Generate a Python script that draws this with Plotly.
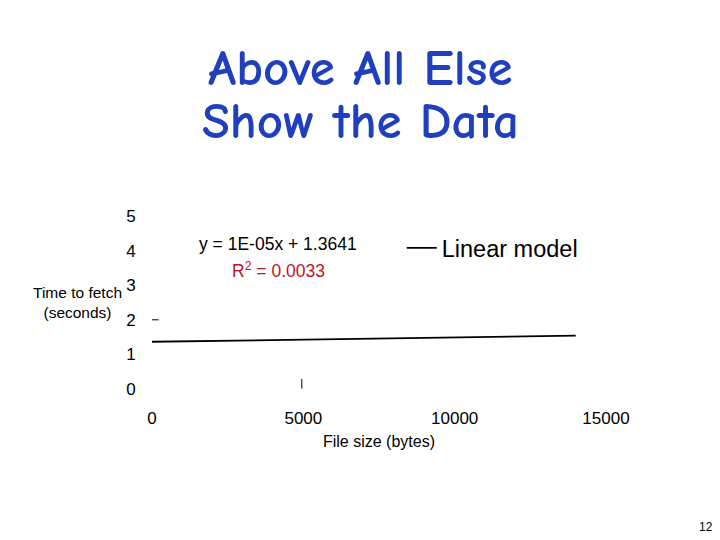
import plotly.graph_objects as go

# Data
line_x = [0, 14000]
line_y = [1.365, 1.54]
pts_x = [80, 4950]
pts_y = [2.0, 0.15]
x_ticks = [0, 5000, 10000, 15000]
y_ticks = [0, 1, 2, 3, 4, 5]

FONT = "Arial, Liberation Sans, sans-serif"
TITLE_FONT = "Comic Sans MS, Comic Neue, DejaVu Sans, sans-serif"
BLUE = "#1f3fbf"

fig = go.Figure()
fig.add_trace(go.Scatter(
    x=line_x, y=line_y, mode="lines", name="Linear model",
    line=dict(color="black", width=1.8), showlegend=True,
))
fig.add_trace(go.Scatter(
    x=pts_x[:1], y=pts_y[:1], mode="markers", showlegend=False,
    marker=dict(symbol="line-ew", size=6, line=dict(color="black", width=1)),
))
fig.add_trace(go.Scatter(
    x=pts_x[1:], y=pts_y[1:], mode="markers", showlegend=False,
    marker=dict(symbol="line-ns", size=7, line=dict(color="black", width=1)),
))

fig.update_layout(
    width=720, height=540,
    paper_bgcolor="white", plot_bgcolor="white",
    margin=dict(l=152, r=114, t=216, b=151, autoexpand=False),
    font=dict(family=FONT, color="black", size=17),
    legend=dict(
        xref="container", yref="container", x=0.558, y=1 - 248 / 540,
        xanchor="left", yanchor="middle",
        font=dict(size=23.5, family=FONT, color="black"),
        bgcolor="rgba(0,0,0,0)", itemwidth=30,
    ),
    showlegend=True,
)
fig.update_xaxes(
    range=[0, 15000], tickvals=x_ticks, ticktext=[str(v) for v in x_ticks],
    showgrid=False, zeroline=False, showline=False,
    ticks="outside", ticklen=14, tickcolor="white",
    tickfont=dict(size=17),
    title=dict(text="File size (bytes)", font=dict(size=16), standoff=8),
)
fig.update_yaxes(
    range=[0, 5], tickvals=y_ticks, ticktext=[str(v) for v in y_ticks],
    showgrid=False, zeroline=False, showline=False,
    ticks="outside", ticklen=12, tickcolor="white",
    tickfont=dict(size=17),
)


def add_text(text, px, py, size, color="black", family=FONT, bold=False, height=None):
    fig.add_annotation(
        text=f"<b>{text}</b>" if bold else text,
        xref="paper", yref="paper",
        x=(px - 152) / (720 - 152 - 114),
        y=(389 - py) / (389 - 216),
        xanchor="center", yanchor="middle",
        showarrow=False, height=height,
        font=dict(size=size, color=color, family=family),
    )


add_text("Above All Else", 360, 68, 51, color=BLUE, family=TITLE_FONT, bold=True, height=50)
add_text("Show the Data", 360, 121, 51, color=BLUE, family=TITLE_FONT, bold=True, height=50)
add_text("y = 1E-05x + 1.3641", 278, 244, 17.5)
add_text("R<sup>2</sup> = 0.0033", 278, 270, 17.5, color="#c0141e")
add_text("Time to fetch<br>(seconds)", 77, 302, 15.5)
add_text("12", 706, 527, 12)

fig.write_html(
    "out.html",
    config={"displayModeBar": False},
    post_script="document.body.style.margin='0';",
)
